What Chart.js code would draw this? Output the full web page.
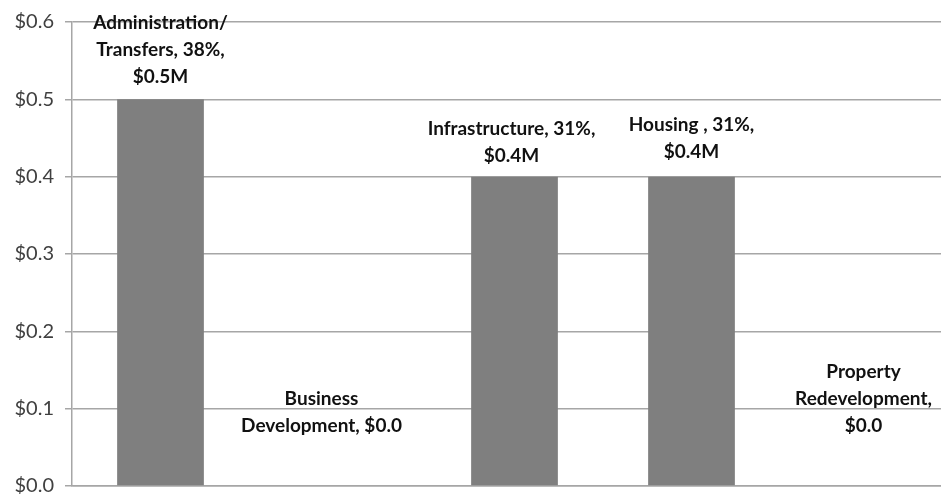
<!DOCTYPE html>
<html>
<head>
<meta charset="utf-8">
<script src="https://cdn.jsdelivr.net/npm/chart.js@4"></script>
<style>
  html, body { margin: 0; padding: 0; background: #fff; overflow: hidden; }
  #wrap { position: absolute; left: 0; top: 0; width: 960px; height: 496px; }
</style>
</head>
<body>
<div id="wrap"><canvas id="myChart" width="960" height="496"></canvas></div>
<script>
const categories = ["Administration/ Transfers", "Business Development", "Infrastructure", "Housing", "Property Redevelopment"];
const amounts = [0.5, 0.0, 0.4, 0.4, 0.0];          // $ millions
const shares = [38, null, 31, 31, null];            // percent of total
const yTicks = [0, 0.1, 0.2, 0.3, 0.4, 0.5, 0.6];

// how each data label wraps (text comes from the arrays above)
const money = (v, i) => (shares[i] == null ? `$${v.toFixed(1)}` : `$${v.toFixed(1)}M`);
const label_lines = [
  ["Administration/", `Transfers, ${shares[0]}%,`, money(amounts[0], 0)],
  ["Business", `Development, ${money(amounts[1], 1)}`],
  [`Infrastructure, ${shares[2]}%,`, money(amounts[2], 2)],
  [`Housing , ${shares[3]}%,`, money(amounts[3], 3)],
  ["Property", "Redevelopment,", money(amounts[4], 4)],
];

const barLabels = {
  id: "barLabels",
  afterDatasetsDraw(chart, args, opts) {
    const c = chart.ctx;
    const bars = chart.getDatasetMeta(0).data;
    c.save();
    c.font = "bold 19px Lato";
    c.fillStyle = "#111";
    c.textAlign = "center";
    c.textBaseline = "middle";
    bars.forEach((bar, i) => {
      const lines = label_lines[i];
      const lift = amounts[i] === 0 ? 60 : opts.gap[i];
      const x = bar.x + opts.dx[i];
      lines.forEach((ln, k) => {
        const y = bar.y - lift - (lines.length - 1 - k) * 27;
        c.fillText(ln, x, y);
      });
    });
    c.restore();
  },
};

new Chart(document.getElementById("myChart"), {
  type: "bar",
  data: {
    labels: categories,
    datasets: [
      {
        data: amounts,
        backgroundColor: "#7f7f7f",
        borderWidth: 0,
        barPercentage: 0.49,
        categoryPercentage: 1,
      },
    ],
  },
  options: {
    responsive: false,
    animation: false,
    layout: { padding: { top: 22, right: 3, bottom: 10, left: 0 } },
    plugins: {
      legend: { display: false },
      tooltip: { enabled: false },
      barLabels: { gap: [22, 0, 21, 25, 0], dx: [0, -16, -3, 0, -5] },
    },
    scales: {
      x: {
        grid: { display: false },
        ticks: { display: false },
        afterFit: (s) => { s.height = 0; },
        border: { color: "#a6a6a6", width: 1.5 },
      },
      y: {
        min: 0,
        max: 0.6,
        afterBuildTicks: (s) => { s.ticks = yTicks.map((v) => ({ value: v })); },
        afterFit: (s) => {
          s.width = 72;
          s.paddingTop = 0;
          s.paddingBottom = 0;
        },
        ticks: {
          padding: 11,
          color: "#404040",
          font: { family: "Lato", size: 20 },
          callback: (v) => `$${Number(v).toFixed(1)}`,
        },
        grid: { color: "#a6a6a6", lineWidth: 1.5, tickLength: 7 },
        border: { color: "#a6a6a6", width: 1.5 },
      },
    },
  },
  plugins: [barLabels],
});
</script>
</body>
</html>
